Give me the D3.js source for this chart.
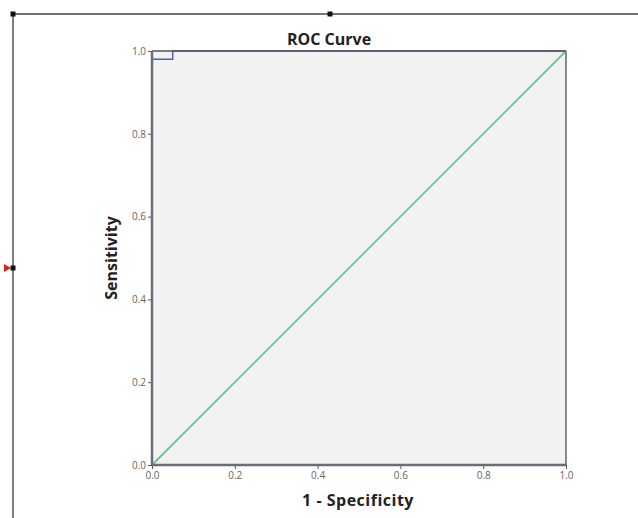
<!DOCTYPE html>
<html><head><meta charset="utf-8">
<script src="https://cdn.jsdelivr.net/npm/d3@7"></script>
<style>body{margin:0;background:#fff;}svg{display:block;}</style>
</head><body>
<script>
const rocX = [0, 0, 0.05, 0.05, 1];
const rocY = [0, 0.98, 0.98, 1, 1];
const refX = [0, 1];
const refY = [0, 1];
const tickValues = [0, 0.2, 0.4, 0.6, 0.8, 1.0];
const title = "ROC Curve";
const xLabel = "1 - Specificity";
const yLabel = "Sensitivity";

const W = 638, H = 518;
const svg = d3.select("body").append("svg").attr("width", W).attr("height", H);
const m = {left: 152, top: 51, right: 566, bottom: 465};
const x = d3.scaleLinear().domain([0, 1]).range([m.left, m.right]);
const y = d3.scaleLinear().domain([0, 1]).range([m.bottom, m.top]);

// outer frame
svg.append("line").attr("x1", 13).attr("x2", W).attr("y1", 14).attr("y2", 14).attr("stroke", "#444").attr("stroke-width", 1.5);
svg.append("line").attr("x1", 13).attr("x2", 13).attr("y1", 14).attr("y2", H).attr("stroke", "#555").attr("stroke-width", 1.5);
[[13,14],[330,14],[13,268]].forEach(p => svg.append("rect").attr("x", p[0]-2.5).attr("y", p[1]-2.5).attr("width", 5).attr("height", 5).attr("fill", "#111"));
svg.append("path").attr("d", "M4,264 L11,268 L4,272 Z").attr("fill", "#e0201a");

// plot background
svg.append("rect").attr("x", x(0)).attr("y", y(1)).attr("width", x(1)-x(0)).attr("height", y(0)-y(1)).attr("fill", "#f2f2f2");

const xAxis = d3.axisBottom(x).tickValues(tickValues).tickFormat(d3.format(".1f")).tickSize(4).tickPadding(3);
const yAxis = d3.axisLeft(y).tickValues(tickValues).tickFormat(d3.format(".1f")).tickSize(4).tickPadding(2);
const gx = svg.append("g").attr("transform", `translate(0,${m.bottom})`).call(xAxis);
const gy = svg.append("g").attr("transform", `translate(${m.left},0)`).call(yAxis);
[gx, gy].forEach(g => {
  g.select(".domain").remove();
  g.selectAll(".tick line").attr("stroke", "#555");
  g.selectAll(".tick text").attr("fill", "#666").attr("font-family", "Open Sans, sans-serif").attr("font-size", 10);
});

// lines
const line = d3.line().x(d => x(d[0])).y(d => y(d[1]));
svg.append("path").datum(refX.map((v,i)=>[v, refY[i]])).attr("d", line).attr("fill", "none").attr("stroke", "#5ccf8c").attr("stroke-width", 1.8);
svg.append("path").datum(rocX.map((v,i)=>[v, rocY[i]])).attr("d", line).attr("fill", "none").attr("stroke", "#4d63b3").attr("stroke-width", 1.5);

// frame of plot
svg.append("line").attr("x1", x(0)).attr("x2", x(1)).attr("y1", y(1)).attr("y2", y(1)).attr("stroke", "#555").attr("stroke-width", 1.5);
svg.append("line").attr("x1", x(1)).attr("x2", x(1)).attr("y1", y(1)).attr("y2", y(0)).attr("stroke", "#888").attr("stroke-width", 2);
svg.append("line").attr("x1", x(0)).attr("x2", x(1)).attr("y1", y(0)).attr("y2", y(0)).attr("stroke", "#6b6e7a").attr("stroke-width", 2.5);
svg.append("line").attr("x1", x(0)).attr("x2", x(0)).attr("y1", y(1)).attr("y2", y(0)).attr("stroke", "#6b6e7a").attr("stroke-width", 2.5);

const font = "Open Sans, sans-serif";
svg.append("text").attr("x", 329).attr("y", 45).attr("text-anchor", "middle").attr("font-family", font).attr("font-weight", "bold").attr("font-size", 16).attr("fill", "#222").text(title);
svg.append("text").attr("x", 358).attr("y", 506).attr("text-anchor", "middle").attr("font-family", font).attr("font-weight", "bold").attr("font-size", 16).attr("letter-spacing", 0.5).attr("fill", "#222").text(xLabel);
svg.append("text").attr("transform", "translate(117,258) rotate(-90)").attr("text-anchor", "middle").attr("font-family", font).attr("font-weight", "bold").attr("font-size", 16).attr("fill", "#222").text(yLabel);
</script>
</body></html>
